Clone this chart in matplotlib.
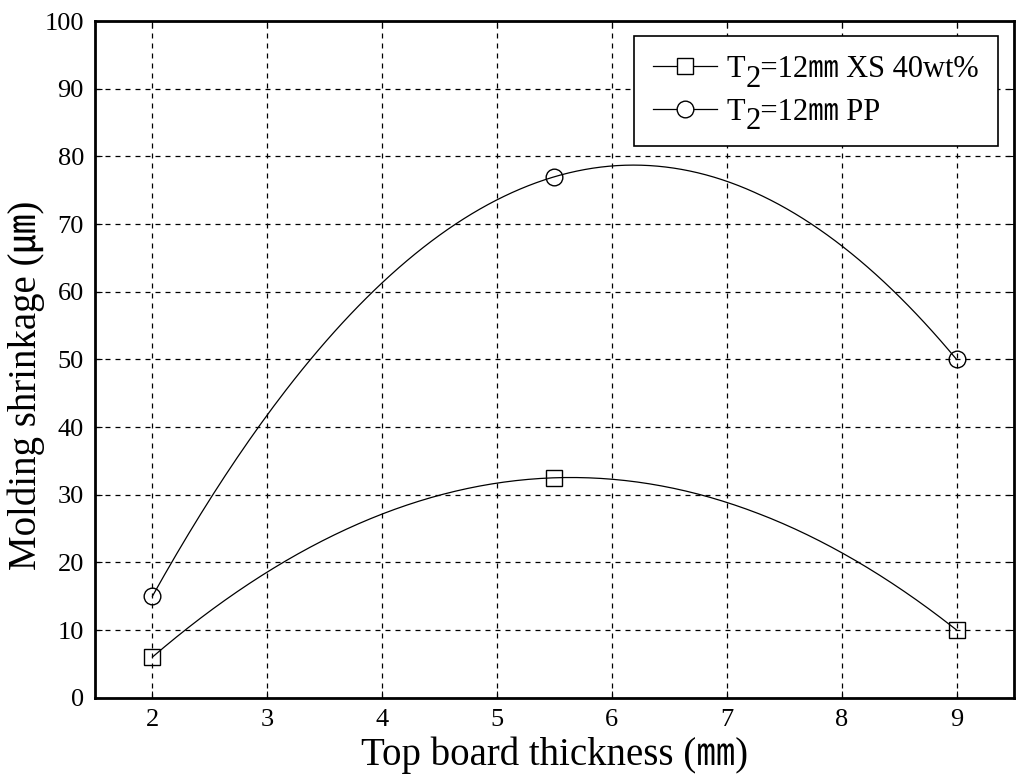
import matplotlib
matplotlib.use('Agg')
import matplotlib.pyplot as plt
import numpy as np

# datos
thickness = [2, 5.5, 9]
xs40 = [6, 32.5, 10]
pp = [15, 77, 50]
# el "2" del subindice se dibuja aparte (ver abajo)
labels = ['T  =12㎜ XS 40wt%', 'T  =12㎜ PP']

fam = ['Liberation Serif', 'Noto Sans CJK JP']
plt.rcParams['font.family'] = fam

fig, ax = plt.subplots(figsize=(10.16, 7.83), dpi=100)
fig.subplots_adjust(left=0.0935, right=0.998, top=0.973, bottom=0.109)

# curva suave (cuadratica) que pasa por los tres puntos
xx = np.linspace(thickness[0], thickness[-1], 200)
for ys, mk, ms, lab in [(xs40, 's', 11, labels[0]), (pp, 'o', 12, labels[1])]:
    coef = np.polyfit(thickness, ys, 2)
    ax.plot(xx, np.polyval(coef, xx), color='black', lw=0.9)
    ax.plot(thickness, ys, linestyle='none', marker=mk, markersize=ms,
            markerfacecolor='none', markeredgecolor='black', markeredgewidth=1)
    # entrada de leyenda
    ax.plot([], [], color='black', lw=0.9, marker=mk, markersize=ms,
            markerfacecolor='white', markeredgecolor='black', label=lab)

ax.set_xlim(1.5, 9.5)
ax.set_ylim(0, 100)
ax.set_xticks(range(2, 10))
ax.set_yticks(range(0, 101, 10))
ax.grid(True, color='black', linestyle=(0, (4, 4)), lw=0.9)
ax.tick_params(direction='in', top=True, right=True, labelsize=19, length=5, pad=8)
for s in ax.spines.values():
    s.set_linewidth(2)

ax.set_xlabel('Top board thickness (㎜)', fontsize=28, labelpad=4)
ax.set_ylabel('Molding shrinkage (㎛)', fontsize=28)
ax.yaxis.set_label_coords(-0.054, 0.462)

leg = ax.legend(loc='upper right', fontsize=22, fancybox=False, edgecolor='black',
                framealpha=1, handlelength=2.1, handletextpad=0.35, borderpad=0.62,
                labelspacing=0.45, borderaxespad=0, bbox_to_anchor=(0.9826, 0.978))
leg.get_frame().set_linewidth(1.2)

# subindice "2" de T2, mas bajo y casi del mismo tamaño
for t in leg.get_texts():
    ax.annotate('2', xy=(0, 0), xycoords=t, xytext=(13.2, -7),
                textcoords='offset points', fontsize=22, ha='left', va='bottom',
                zorder=10)

plt.savefig('out.png')
